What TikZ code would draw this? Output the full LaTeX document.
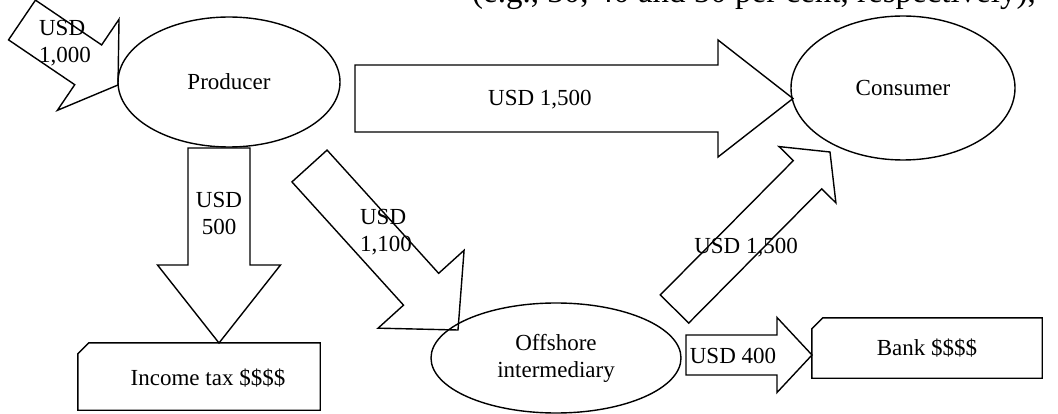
\documentclass[tikz,border=0pt]{standalone}
\usepackage{fontspec}
\setmainfont{Liberation Serif}
\usetikzlibrary{calc,shapes.geometric}
\tikzset{
  flow/.style={draw=black, line width=1.4pt, line join=miter},
  lbl/.style={font=\fontsize{23}{27}\selectfont, inner sep=0pt, align=center},
  oval/.style={ellipse, draw=black, line width=1.4pt, inner sep=0pt, font=\fontsize{23}{27}\selectfont, align=center},
  boxarea/.style={inner sep=0pt, font=\fontsize{23}{27}\selectfont}
}
\newcommand\blockarrow[6]{%
  \coordinate (#1H) at ($(#3)!#6!(#2)$);
  \draw[flow] ($(#2)!#4!90:(#3)$) -- ($(#1H)!#4!-90:(#2)$) -- ($(#1H)!#5!-90:(#2)$) -- (#3)
    -- ($(#1H)!#5!90:(#2)$) -- ($(#1H)!#4!90:(#2)$) -- ($(#2)!#4!-90:(#3)$) -- cycle;
}
\newcommand\cardoutline[1]{%
  \draw[flow] ($(#1.north west)+(0,11)$) -- ($(#1.north west)+(11,0)$) -- (#1.north east)
    -- (#1.south east) -- (#1.south west) -- cycle;
}
\begin{document}
\begin{tikzpicture}[x=1pt,y=-1pt]
\useasboundingbox (0,0) rectangle (1058,414);
\clip (0,0) rectangle (1058,414);
% top text (cut off at the top edge)
\node[anchor=base west, inner sep=0pt, font=\fontsize{33}{38}\selectfont] (toptext) at (472,3) {(e.g., 30, 40 and 50 per cent, respectively),};
% nodes
\node[oval, minimum width=222pt, minimum height=130pt] (prod) at (229,82) {Producer};
\node[oval, minimum width=224pt, minimum height=144pt] (cons) at (903,88) {Consumer};
\node[oval, minimum width=250pt, minimum height=110pt] (off) at (556,358) {Offshore\\intermediary};
\node[boxarea, minimum width=242pt, minimum height=67pt] (tax) at (199,376.5) {};
\cardoutline{tax}
\node[lbl] (taxt) at (208,378) {Income tax \$\$\$\$};
\node[boxarea, minimum width=230pt, minimum height=60pt] (bank) at (927,348) {Bank \$\$\$\$};
\cardoutline{bank}
% arrow ends
\coordinate (t1000) at (22,20);      \coordinate (p1000) at (118,85);
\coordinate (t500) at (219,148);     \coordinate (p500) at (219,343);
\coordinate (t1100) at (309.5,166);  \coordinate (p1100) at (458,330);
\coordinate (t1500d) at (674.5,309); \coordinate (p1500d) at (830,152);
\coordinate (t1500h) at (355,98.5);  \coordinate (p1500h) at (793,98.5);
\coordinate (t400) at (686,355);     \coordinate (p400) at (812,355);
\blockarrow{a1000}{t1000}{p1000}{24pt}{55pt}{36pt}
\blockarrow{a500}{t500}{p500}{31pt}{61.5pt}{78pt}
\blockarrow{a1100}{t1100}{p1100}{23.7pt}{58pt}{55pt}
\blockarrow{a1500d}{t1500d}{p1500d}{20pt}{40pt}{32pt}
\blockarrow{a1500h}{t1500h}{p1500h}{33.5pt}{58.5pt}{75pt}
\blockarrow{a400}{t400}{p400}{20pt}{37.5pt}{35pt}
% labels
\node[lbl, align=left] (l1000) at (65,43) {USD\\1,000};
\node[lbl] (l500) at (219,213) {USD\\500};
\node[lbl, align=left] (l1100) at (386,232) {USD\\1,100};
\node[lbl] (l1500h) at (540,100) {USD 1,500};
\node[lbl] (l1500d) at (746,248) {USD 1,500};
\node[lbl] (l400) at (733,356) {USD 400};
\end{tikzpicture}
\end{document}
